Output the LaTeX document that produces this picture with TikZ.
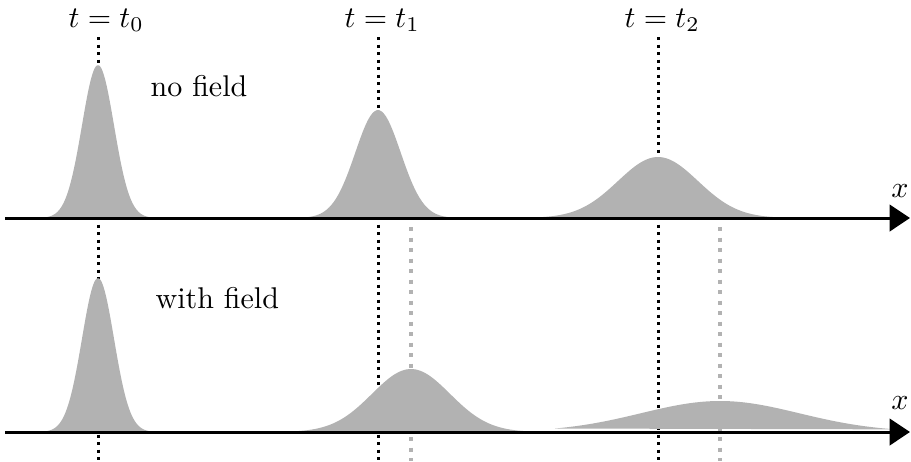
\documentclass[tikz,border=0pt]{standalone}
\usetikzlibrary{arrows.meta}
\colorlet{pulsegray}{black!30}
\tikzset{
  pulse/.style={fill=pulsegray, draw=none},
  axisline/.style={line width=1pt, -{Triangle[length=6.8pt, width=8.8pt]}},
  blackdots/.style={line width=1pt, dash pattern=on 1pt off 1.5pt},
  graydots/.style={pulsegray, line width=1.4pt, dash pattern=on 1.4pt off 2.1pt},
  lbl/.style={inner sep=0pt, anchor=base west},
}
\begin{document}
\begin{tikzpicture}[x=0.3333pt, y=-0.3333pt]
\useasboundingbox (0,0) rectangle (911,461);
% dotted guide lines (behind pulses)
\coordinate (d0a) at (98,37);   \coordinate (d0b) at (98,461);
\coordinate (d1a) at (378,37);  \coordinate (d1b) at (378,461);
\coordinate (d2a) at (658,37);  \coordinate (d2b) at (658,461);
\coordinate (g1a) at (411,227); \coordinate (g1b) at (411,461);
\coordinate (g2a) at (720,227); \coordinate (g2b) at (720,461);
\draw[blackdots] (d0a) -- (d0b);
\draw[blackdots] (d1a) -- (d1b);
\draw[blackdots] (d2a) -- (d2b);
\draw[graydots] (g1a) -- (g1b);
\draw[graydots] (g2a) -- (g2b);
% pulses, top (no field)
\fill[pulse] plot[smooth, domain=42:154, samples=60] (\x,{218-153*exp(-((\x-98)/16)^2/2)}) -- cycle;
\fill[pulse] plot[smooth, domain=300:456, samples=70] (\x,{218-108*exp(-((\x-378)/22.7)^2/2)}) -- cycle;
\fill[pulse] plot[smooth, domain=520:796, samples=90] (\x,{218-61*exp(-((\x-658)/40)^2/2)}) -- cycle;
% pulses, bottom (with field)
\fill[pulse] plot[smooth, domain=42:154, samples=60] (\x,{432-154*exp(-((\x-98)/16)^2/2)}) -- cycle;
\fill[pulse] plot[smooth, domain=280:542, samples=90] (\x,{432-63*exp(-((\x-411)/39)^2/2)}) -- cycle;
\fill[pulse] plot[smooth, domain=555:895, samples=100] (\x,{432-31*exp(-((\x-720)/79)^2/2)}) -- cycle;
% axes
\coordinate (a1s) at (5,218);  \coordinate (a1e) at (910,218);
\coordinate (a2s) at (5,432);  \coordinate (a2e) at (910,432);
\draw[axisline] (a1s) -- (a1e);
\draw[axisline] (a2s) -- (a2e);
% labels
\node[lbl] (l0) at (68,27)  {$t=t_0$};
\node[lbl] (l1) at (344,27) {$t=t_1$};
\node[lbl] (l2) at (624,27) {$t=t_2$};
\node[lbl] (nf) at (150,96) {no field};
\node[lbl] (wf) at (155,308) {with field};
\node[inner sep=0pt] (x1) at (900,191) {$x$};
\node[inner sep=0pt] (x2) at (900,403) {$x$};
\end{tikzpicture}
\end{document}
